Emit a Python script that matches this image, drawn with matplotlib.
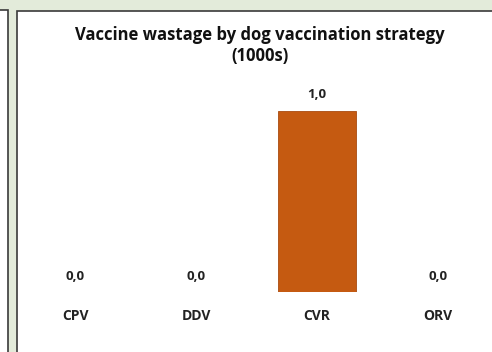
import matplotlib
matplotlib.use("Agg")
import matplotlib.pyplot as plt
from matplotlib.patches import Rectangle

strategies = ["CPV", "DDV", "CVR", "ORV"]
wastage = [0.0, 0.0, 1.0, 0.0]
value_labels = ["0,0", "0,0", "1,0", "0,0"]

W, H = 492, 352
BG = "#e3ebda"
BAR = "#c55a11"

plt.rcParams["font.family"] = ["Open Sans", "DejaVu Sans"]

fig = plt.figure(figsize=(W / 100, H / 100), dpi=100)
fig.patch.set_facecolor(BG)

# neighbouring panel on the left edge and the chart panel itself
fig.add_artist(Rectangle((-10 / W, -10 / H), 17.5 / W, (H - 10 + 10.5) / H,
                         transform=fig.transFigure, facecolor="white",
                         edgecolor="#3a3a3a", linewidth=1.2, zorder=-5))
fig.add_artist(Rectangle((16.5 / W, -10 / H), (W) / W, (H - 10.5 + 10) / H,
                         transform=fig.transFigure, facecolor="white",
                         edgecolor="#3a3a3a", linewidth=1.2, zorder=-5))

ax = fig.add_axes([16 / W, 60 / H, 476 / W, 181 / H])
ax.set_facecolor("none")
ax.bar(range(len(strategies)), wastage, width=0.645, color=BAR,
       edgecolor="#a84a10", linewidth=0.6)
ax.set_xlim(-0.488, 3.446)
ax.set_ylim(0, 1)
ax.axis("off")

for i, (v, lab) in enumerate(zip(wastage, value_labels)):
    ax.annotate(lab, (i, v), xytext=(0, 16), textcoords="offset pixels",
                ha="center", va="center", fontsize=9.5, fontweight="bold",
                color="#222222")
    ax.annotate(strategies[i], (i, 0), xytext=(0, -24), textcoords="offset pixels",
                ha="center", va="center", fontsize=10, fontweight="bold",
                color="#222222")

fig.text(260 / W, 1 - 35 / H, "Vaccine wastage by dog vaccination strategy",
         ha="center", va="center", fontsize=12, fontweight="bold", color="#111111")
fig.text(260 / W, 1 - 56 / H, "(1000s)",
         ha="center", va="center", fontsize=12, fontweight="bold", color="#111111")

fig.savefig("out.png", dpi=100, facecolor=BG)
